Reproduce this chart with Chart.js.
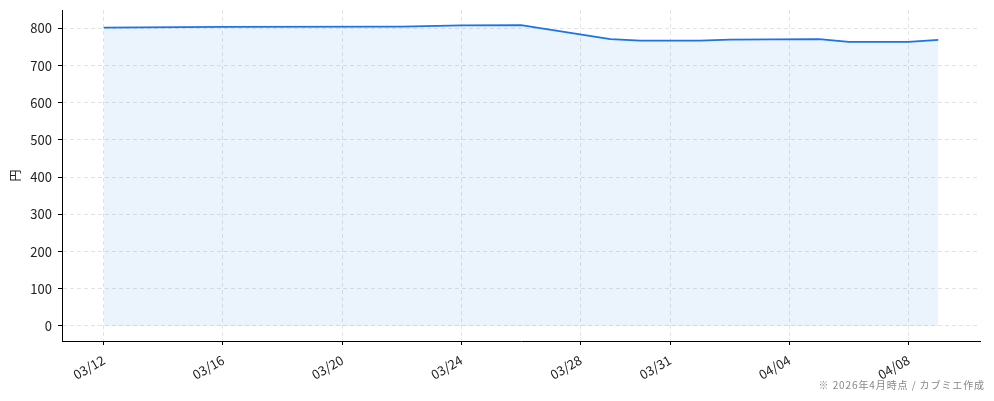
<!DOCTYPE html>
<html><head><meta charset="utf-8">
<script src="https://cdn.jsdelivr.net/npm/chart.js@4.4.1/dist/chart.umd.min.js"></script>
<style>
html,body{margin:0;padding:0;background:#fff;}
#wrap{position:relative;width:994px;height:401px;}
#note{position:absolute;right:9px;top:377px;font:10px "Noto Sans CJK JP";color:#888;letter-spacing:0.9px;white-space:nowrap}
</style></head><body>
<div id="wrap"><canvas id="c" width="994" height="401"></canvas><div id="note">※ 2026年4月時点 / カブミエ作成</div></div>
<script>
const dates = ['2026-03-12','2026-03-16','2026-03-22','2026-03-24','2026-03-26','2026-03-29','2026-03-30','2026-04-01','2026-04-02','2026-04-05','2026-04-06','2026-04-08','2026-04-09'];
const prices = [802, 804, 805, 808, 809, 771, 767, 767, 770, 771, 764, 764, 769];
const tickDates = ['2026-03-12','2026-03-16','2026-03-20','2026-03-24','2026-03-28','2026-03-31','2026-04-04','2026-04-08'];
const yTicks = [0, 100, 200, 300, 400, 500, 600, 700, 800];
const yLabel = '円';

const DAY = 86400000;
const toMs = s => { const [y,m,d] = s.split('-').map(Number); return Date.UTC(y, m-1, d); };
const base = toMs(dates[0]);
const dayOf = s => (toMs(s) - base) / DAY;
const fmt = v => { const d = new Date(base + v*DAY); return String(d.getUTCMonth()+1).padStart(2,'0') + '/' + String(d.getUTCDate()).padStart(2,'0'); };

const pts = dates.map((d,i) => ({x: dayOf(d), y: prices[i]}));
const xs = pts.map(p=>p.x);
const xMin = Math.min(...xs), xMax = Math.max(...xs);
const xPad = (xMax - xMin) * 0.05;
const yMaxData = Math.max(...prices), yMinData = 0;
const yPad = (yMaxData - yMinData) * 0.05;

const tickFont = {family: '"Noto Sans CJK JP", "Noto Sans", sans-serif', size: 13};

new Chart(document.getElementById('c'), {
  type: 'line',
  data: { datasets: [{
    data: pts,
    borderColor: '#1a73e8',
    borderWidth: 1.8,
    backgroundColor: 'rgba(26,115,232,0.085)',
    fill: 'origin',
    pointRadius: 0,
    tension: 0
  }]},
  options: {
    responsive: false,
    animation: false,
    devicePixelRatio: 1,
    layout: { padding: {left: 8, right: 14, top: 10, bottom: 0} },
    plugins: { legend: {display: false}, tooltip: {enabled: false} },
    scales: {
      x: {
        type: 'linear',
        min: xMin - xPad, max: xMax + xPad,
        afterBuildTicks: s => { s.ticks = tickDates.map(d => ({value: dayOf(d)})); },
        afterFit: s => { s.height = 60; s.paddingLeft = 0; s.paddingRight = 0; },
        ticks: { autoSkip: false, minRotation: 30, maxRotation: 30, color: '#222', font: tickFont, padding: 7, callback: v => fmt(v) },
        grid: { color: '#e3e3e3', lineWidth: 1, tickLength: 4, tickColor: '#000', tickWidth: 1, tickBorderDash: [] },
        border: { display: true, color: '#000', width: 1, dash: [4, 3] }
      },
      y: {
        type: 'linear',
        min: yMinData - yPad, max: yMaxData + yPad,
        afterBuildTicks: s => { s.ticks = yTicks.map(v => ({value: v})); },
        afterFit: s => { s.width = 54; s.paddingTop = 0; s.paddingBottom = 0; },
        ticks: { color: '#222', font: tickFont, padding: 6 },
        grid: { color: '#e3e3e3', lineWidth: 1, tickLength: 4, tickColor: '#000', tickWidth: 1, tickBorderDash: [] },
        border: { display: true, color: '#000', width: 1, dash: [4, 3] },
        title: { display: true, text: yLabel, color: '#222', font: {family: '"Noto Sans CJK JP", sans-serif', size: 12}, padding: 0 }
      }
    }
  }
});
</script>
</body></html>
